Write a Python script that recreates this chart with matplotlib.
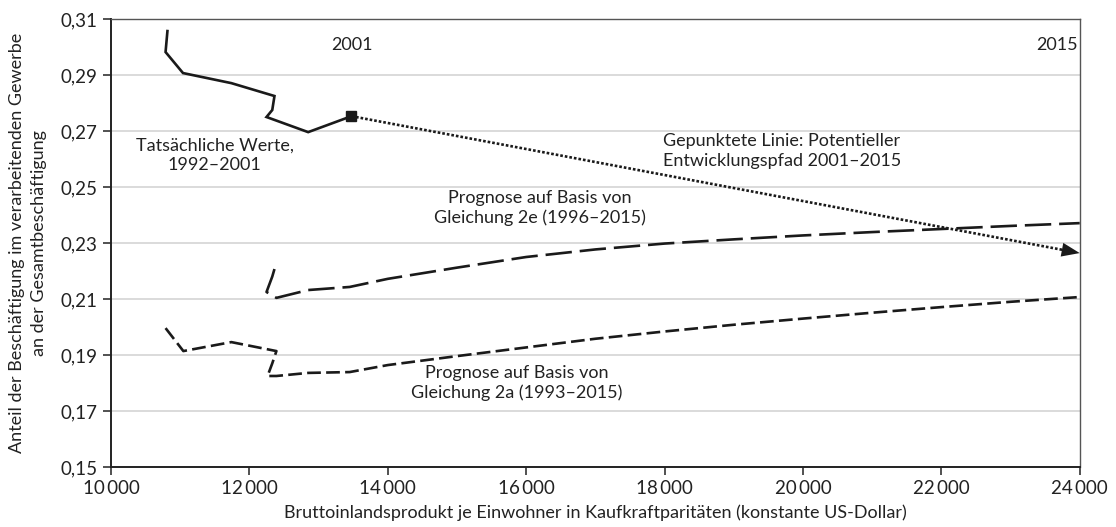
import matplotlib
matplotlib.use("Agg")
import matplotlib.pyplot as plt
from matplotlib.ticker import FuncFormatter

plt.rcParams["font.family"] = ["Lato", "DejaVu Sans"]

# Tatsaechliche Werte 1992-2001
actual_x = [10815, 10788, 11040, 11739, 12362, 12330, 12247, 12849, 13475]
actual_y = [0.3057, 0.2982, 0.2907, 0.2871, 0.2825, 0.2775, 0.2750, 0.2696, 0.2753]

# Potentieller Entwicklungspfad 2001-2015
path_x = [13475, 24000]
path_y = [0.2753, 0.2264]

# Prognose Gleichung 2e (1996-2015)
eq2e_x = [12362, 12330, 12247, 12390, 12849, 13449, 14000, 15000, 16000, 17000,
          18000, 19000, 20000, 21000, 22000, 23000, 24000]
eq2e_y = [0.2207, 0.2180, 0.2125, 0.2104, 0.2132, 0.2143, 0.2172, 0.2212, 0.2250,
          0.2277, 0.2298, 0.2313, 0.2327, 0.2339, 0.2350, 0.2361, 0.2371]

# Prognose Gleichung 2a (1993-2015)
eq2a_x = [10788, 11045, 11739, 12390, 12330, 12262, 12390, 12849, 13449, 14000,
          15000, 16000, 17000, 18000, 19000, 20000, 21000, 22000, 23000, 24000]
eq2a_y = [0.1996, 0.1914, 0.1946, 0.1914, 0.1870, 0.1825, 0.1825, 0.1836, 0.1839,
          0.1864, 0.1896, 0.1927, 0.1958, 0.1984, 0.2008, 0.2030, 0.2051, 0.2071,
          0.2090, 0.2107]

x_ticks = [10000, 12000, 14000, 16000, 18000, 20000, 22000, 24000]
y_ticks = [0.15, 0.17, 0.19, 0.21, 0.23, 0.25, 0.27, 0.29, 0.31]

fig = plt.figure(figsize=(11.16, 5.27), dpi=100)
ax = fig.add_axes([0.0995, 0.1139, 0.868, 0.85])

ink = "#1a1a1a"
ax.plot(actual_x, actual_y, color=ink, lw=1.9, solid_joinstyle="miter")
ax.plot(actual_x[-1], actual_y[-1], marker="s", ms=7, color=ink)
ax.plot(eq2e_x, eq2e_y, color=ink, lw=1.9, dashes=(10, 3))
ax.plot(eq2a_x, eq2a_y, color=ink, lw=1.9, dashes=(5.2, 2.0))

ax.plot([path_x[0], path_x[1] - 250], [path_y[0], path_y[1] + 0.00116], color=ink,
        lw=1.9, linestyle=(0, (1.0, 0.75)), dash_capstyle="butt")
ax.annotate("", xy=(path_x[1], path_y[1]),
            xytext=(path_x[1] - 300, path_y[1] + 0.0014),
            arrowprops=dict(arrowstyle="-|>,head_length=1.3,head_width=0.5",
                            color=ink, lw=0, shrinkA=0, shrinkB=0))

ax.set_xlim(10000, 24000)
ax.set_ylim(0.15, 0.31)
ax.set_xticks(x_ticks)
ax.set_yticks(y_ticks)
ax.xaxis.set_major_formatter(FuncFormatter(lambda v, p: f"{int(v):,}".replace(",", "\u2009")))
ax.yaxis.set_major_formatter(FuncFormatter(lambda v, p: f"{v:.2f}".replace(".", ",")))
ax.tick_params(axis="both", direction="out", length=6, width=1.2, colors="#333333",
               labelsize=13.5, labelcolor="#222222")
ax.grid(axis="y", color="#d4d4d4", lw=1.2)
ax.set_axisbelow(True)
for s in ["left", "bottom"]:
    ax.spines[s].set_color("#222222")
    ax.spines[s].set_linewidth(1.4)
for s in ["top", "right"]:
    ax.spines[s].set_color("#555555")
    ax.spines[s].set_linewidth(1.0)

ax.set_xlabel("Bruttoinlandsprodukt je Einwohner in Kaufkraftparitäten (konstante US-Dollar)",
              fontsize=13, color="#222222", labelpad=5)
ax.set_ylabel("Anteil der Beschäftigung im verarbeitenden Gewerbe\nan der Gesamtbeschäftigung",
              fontsize=13, color="#222222", labelpad=10, linespacing=1.45)

tk = dict(fontsize=13, color="#222222", ha="center", va="center", linespacing=1.25)
ax.text(13475, 0.3007, "2001", **tk)
ax.text(23676, 0.3007, "2015", **tk)
ax.text(11500, 0.2614, "Tatsächliche Werte,\n1992–2001", **tk)
ax.text(19693, 0.2629, "Gepunktete Linie: Potentieller\nEntwicklungspfad 2001–2015", **tk)
ax.text(16196, 0.2425, "Prognose auf Basis von\nGleichung 2e (1996–2015)", **tk)
ax.text(15868, 0.1800, "Prognose auf Basis von\nGleichung 2a (1993–2015)", **tk)

fig.savefig("out.png", dpi=100)
